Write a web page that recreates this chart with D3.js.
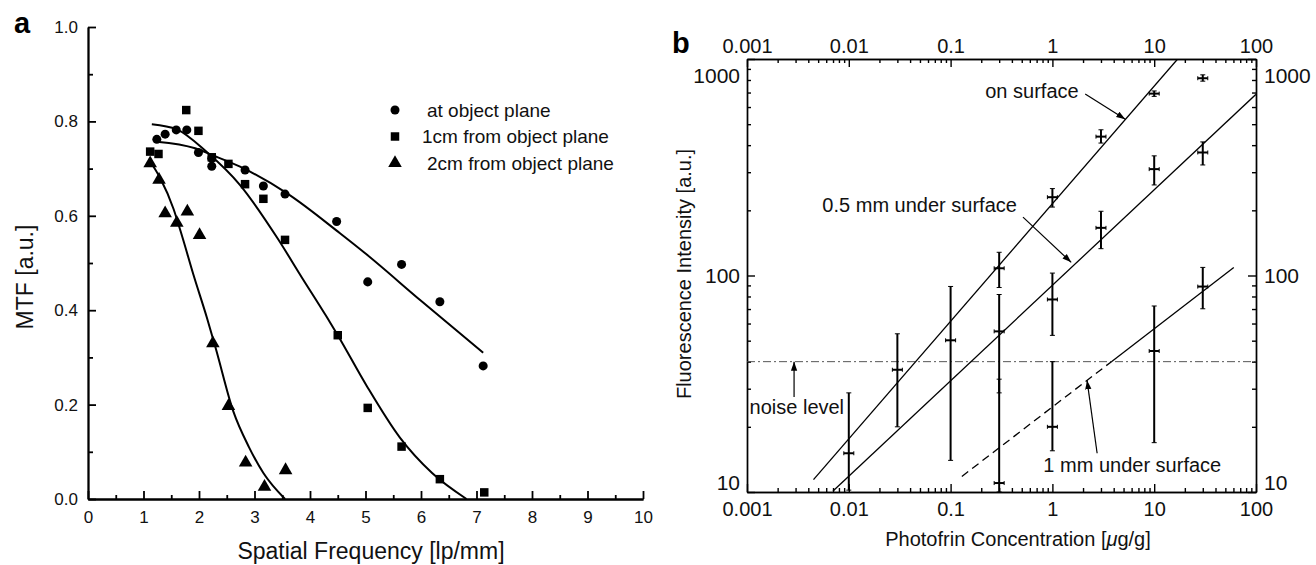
<!DOCTYPE html>
<html>
<head>
<meta charset="utf-8">
<script src="https://cdn.jsdelivr.net/npm/d3@7"></script>
<style>
  body { margin: 0; background: #fff; }
  svg { display: block; font-family: "Liberation Sans", Arial, sans-serif; }
</style>
</head>
<body>
<svg id="chart" width="1316" height="565"></svg>
<script>
// ---- panel a data: MTF vs spatial frequency ----
const atObjectPlane = [[1.24,0.762],[1.39,0.773],[1.59,0.782],[1.78,0.782],[1.99,0.734],[2.23,0.722],[2.23,0.705],
  [2.83,0.697],[3.16,0.663],[3.55,0.646],[4.48,0.588],[5.04,0.46],[5.65,0.497],[6.34,0.418],[7.12,0.282]];
const oneCmFrom = [[1.12,0.736],[1.27,0.731],[1.77,0.824],[1.99,0.78],[2.23,0.724],[2.53,0.71],[2.83,0.667],
  [3.16,0.636],[3.55,0.549],[4.5,0.347],[5.04,0.193],[5.65,0.111],[6.34,0.042],[7.14,0.014]];
const twoCmFrom = [[1.12,0.711],[1.28,0.676],[1.39,0.605],[1.6,0.585],[1.79,0.609],[2.01,0.559],[2.25,0.33],
  [2.53,0.197],[2.84,0.077],[3.18,0.026],[3.56,0.061]];
// fitted curves
const atObjectPlaneFit = [[1.24,0.757],[1.93,0.743],[2.23,0.729],[2.74,0.704],[3.58,0.648],[4.54,0.563],[5.0,0.52],[6.0,0.42],[7.12,0.31]];
const oneCmFit = [[1.15,0.794],[1.6,0.783],[2.14,0.735],[2.74,0.665],[3.4,0.555],[3.85,0.47],[4.3,0.386],[4.5,0.347],
  [5.02,0.24],[5.62,0.13],[6.2,0.055],[6.82,0.0]];
const twoCmFit = [[1.12,0.715],[1.3,0.68],[1.54,0.615],[1.7,0.555],[1.9,0.475],[2.14,0.385],[2.3,0.32],[2.62,0.185],
  [2.9,0.11],[3.16,0.055],[3.55,0.0]];
const legendLabels = ["at object plane", "1cm from object plane", "2cm from object plane"];
const mtfXTicks = [0,1,2,3,4,5,6,7,8,9,10];
const mtfYTicks = [0,0.2,0.4,0.6,0.8,1.0];

// ---- panel b data: [concentration, intensity, low, high] ----
const onSurface = [[0.01,15.1,10.2,28.7],[0.03,36.7,20.0,53.8],[0.1,50.2,14.0,89],[0.3,108,88,128],
  [1,230,207,252],[3,438,409,471],[10,692,672,712],[30,815,790,845]];
const halfMmUnder = [[0.3,55.2,28.7,81.7],[1,77.5,52.9,102.6],[3,166,133,198],[10,310,262,357],[30,370,324,414]];
const oneMmUnder = [[0.3,11.0,10,33.2],[1,20.0,15.5,40],[10,44.8,16.9,72.3],[30,88.9,70.2,109]];
const onSurfaceFit = [[0.0045,11.4],[17,1000]];
const halfMmFit = [[0.007,10.1],[100,687]];
const oneMmFitBelowNoise = [[0.129,11.8],[3.8,40]];
const oneMmFitAboveNoise = [[3.8,40],[60.5,109]];
const noiseLevel = 40;
const concTicks = [0.001,0.01,0.1,1,10,100];
const intensityTicks = [10,100,1000];

const svg = d3.select("#chart");
const font = "'Liberation Sans', Arial, sans-serif";

// ================= panel a =================
const ax = d3.scaleLinear([0,10],[88,643]);
const ay = d3.scaleLinear([0,1],[499,27]);
const gA = svg.append("g");

function styleAxis(g, w, fs) {
  g.select(".domain").attr("stroke-width", w);
  g.selectAll(".tick line").attr("stroke-width", w);
  g.selectAll("text").attr("font-size", fs).attr("font-family", font).attr("fill", "#111");
}

gA.append("g").attr("transform","translate(0,499)")
  .call(d3.axisBottom(ax).tickValues(d3.range(0.5,10,1)).tickSize(-4).tickSizeOuter(0).tickFormat(""))
  .call(g => styleAxis(g, 1.8, 17));
gA.append("g").attr("transform","translate(0,499)")
  .call(d3.axisBottom(ax).tickValues(mtfXTicks).tickSize(-8).tickSizeOuter(0).tickPadding(12).tickFormat(d3.format("d")))
  .call(g => styleAxis(g, 1.8, 17));
gA.append("g").attr("transform","translate(88,0)")
  .call(d3.axisLeft(ay).tickValues(d3.range(0.1,1,0.2)).tickSize(-5).tickSizeOuter(0).tickFormat(""))
  .call(g => styleAxis(g, 1.8, 17));
gA.append("g").attr("transform","translate(88,0)")
  .call(d3.axisLeft(ay).tickValues(mtfYTicks).tickSize(-8).tickSizeOuter(0).tickPadding(10).tickFormat(d3.format(".1f")))
  .call(g => styleAxis(g, 1.8, 17));

const curveA = d3.line().x(d => ax(d[0])).y(d => ay(d[1])).curve(d3.curveMonotoneX);
[atObjectPlaneFit, oneCmFit, twoCmFit].forEach(c => {
  gA.append("path").attr("d", curveA(c)).attr("fill","none").attr("stroke","#000").attr("stroke-width",2);
});

const symbols = [d3.symbolCircle, d3.symbolSquare, d3.symbolTriangle];
const symSize = [64, 72, 80];
[atObjectPlane, oneCmFrom, twoCmFrom].forEach((s, i) => {
  gA.append("g").selectAll("path").data(s).join("path")
    .attr("transform", d => `translate(${ax(d[0])},${ay(d[1])})`)
    .attr("d", d3.symbol(symbols[i], symSize[i]))
    .attr("fill", "#000");
});

// legend
const leg = gA.append("g").attr("transform","translate(395,110)");
legendLabels.forEach((t, i) => {
  leg.append("path").attr("transform", `translate(0,${i*26.5})`).attr("d", d3.symbol(symbols[i], symSize[i])).attr("fill","#000");
  leg.append("text").attr("x", i === 1 ? 27 : 32).attr("y", i*26.5).attr("dy","0.35em")
    .attr("font-size", 19).attr("fill","#111").text(t);
});

gA.append("text").attr("x", 371).attr("y", 559).attr("text-anchor","middle")
  .attr("font-size", 23).attr("fill","#111").text("Spatial Frequency [lp/mm]");
gA.append("text").attr("transform","translate(33,277) rotate(-90)").attr("text-anchor","middle")
  .attr("font-size", 23).attr("fill","#111").text("MTF [a.u.]");
gA.append("text").attr("x", 14).attr("y", 33).attr("font-size", 29).attr("font-weight","bold").text("a");

// ================= panel b =================
const bx = d3.scaleLog([0.001,100],[747,1256]);
const by = d3.scaleLog([10,1000],[492,59]);
const gB = svg.append("g");

const minorX = [];
for (let k = -3; k < 2; k++) for (let m = 2; m <= 9; m++) minorX.push(m * Math.pow(10, k));
const minorY = [];
for (let k = 1; k < 3; k++) for (let m = 2; m <= 9; m++) minorY.push(m * Math.pow(10, k));
const concFmt = d => d >= 1 ? d3.format("d")(d) : String(d);

function logAxis(axisFn, scale, pos, major, minor, fmt, pad) {
  gB.append("g").attr("transform", pos)
    .call(axisFn(scale).tickValues(minor).tickSize(-4).tickSizeOuter(0).tickFormat(""))
    .call(g => styleAxis(g, 1.4, 20));
  return gB.append("g").attr("transform", pos)
    .call(axisFn(scale).tickValues(major).tickSize(-8).tickSizeOuter(0).tickPadding(pad).tickFormat(fmt))
    .call(g => styleAxis(g, 1.4, 20));
}
logAxis(d3.axisBottom, bx, "translate(0,492)", concTicks, minorX, concFmt, 10);
logAxis(d3.axisTop, bx, "translate(0,59)", concTicks, minorX, concFmt, 6);
const yl = logAxis(d3.axisLeft, by, "translate(747,0)", intensityTicks, minorY, d3.format("d"), 7);
const yr = logAxis(d3.axisRight, by, "translate(1256,0)", intensityTicks, minorY, d3.format("d"), 8);
[yl, yr].forEach(g => g.selectAll(".tick text").attr("font-size", 21)
  .attr("dy", d => d === 1000 ? "1.1em" : d === 10 ? "-0.1em" : "0.35em"));

gB.append("clipPath").attr("id","clipB").append("rect")
  .attr("x", 747).attr("y", 59).attr("width", 509).attr("height", 433);
const plot = gB.append("g").attr("clip-path","url(#clipB)");

// noise level
plot.append("line").attr("x1", bx(0.001)).attr("x2", bx(100)).attr("y1", by(noiseLevel)).attr("y2", by(noiseLevel))
  .attr("stroke","#444").attr("stroke-width",0.9).attr("stroke-dasharray","8,3,2,3");

const lineB = d3.line().x(d => bx(d[0])).y(d => by(d[1]));
[onSurfaceFit, halfMmFit, oneMmFitAboveNoise].forEach(l => {
  plot.append("path").attr("d", lineB(l)).attr("fill","none").attr("stroke","#000").attr("stroke-width",1.3);
});
plot.append("path").attr("d", lineB(oneMmFitBelowNoise)).attr("fill","none").attr("stroke","#000")
  .attr("stroke-width",1.3).attr("stroke-dasharray","8,5");

// error bars
[onSurface, halfMmUnder, oneMmUnder].forEach(s => {
  const g = plot.append("g").attr("stroke","#000");
  s.forEach(d => {
    const x = bx(d[0]), y = by(d[1]), lo = by(d[2]), hi = by(d[3]);
    g.append("line").attr("x1",x).attr("x2",x).attr("y1",lo).attr("y2",hi).attr("stroke-width",2);
    [lo, hi].forEach(c => g.append("line").attr("x1",x-2.5).attr("x2",x+2.5).attr("y1",c).attr("y2",c).attr("stroke-width",1));
    g.append("line").attr("x1",x-5).attr("x2",x+5).attr("y1",y).attr("y2",y).attr("stroke-width",2);
    [x-5, x+5].forEach(c => g.append("line").attr("x1",c).attr("x2",c).attr("y1",y-2).attr("y2",y+2).attr("stroke-width",1));
  });
});

// annotations
svg.append("defs").append("marker").attr("id","arr").attr("viewBox","0 0 10 10").attr("refX",10).attr("refY",5)
  .attr("markerWidth",9).attr("markerHeight",9).attr("markerUnits","userSpaceOnUse").attr("orient","auto")
  .append("path").attr("d","M0,1.5L10,5L0,8.5Z").attr("fill","#000");
const arrows = [
  [[2.1,690],[5.2,527]],
  [[0.514,186],[1.53,115]],
  [[0.0029,27.5],[0.0029,40]],
  [[2.75,15.1],[2.19,32.8]]
];
arrows.forEach(a => {
  gB.append("line").attr("x1",bx(a[0][0])).attr("y1",by(a[0][1])).attr("x2",bx(a[1][0])).attr("y2",by(a[1][1]))
    .attr("stroke","#000").attr("stroke-width",1.2).attr("marker-end","url(#arr)");
});
const notes = [
  ["on surface", 0.219, 713],
  ["0.5 mm under surface", 0.0055, 212],
  ["noise level", 0.00106, 24.7],
  ["1 mm under surface", 0.815, 13.3]
];
notes.forEach(n => {
  gB.append("text").attr("x", bx(n[1])).attr("y", by(n[2])).attr("dy","0.35em")
    .attr("font-size",20).attr("fill","#111").text(n[0]);
});

gB.append("text").attr("x", 1018).attr("y", 546).attr("text-anchor","middle").attr("font-size",20).attr("fill","#111")
  .call(t => { t.append("tspan").text("Photofrin Concentration ["); t.append("tspan").attr("font-style","italic").text("μ"); t.append("tspan").text("g/g]"); });
gB.append("text").attr("transform","translate(691,274) rotate(-90)").attr("text-anchor","middle")
  .attr("font-size",20).attr("fill","#111").text("Fluorescence Intensity [a.u.]");
gB.append("text").attr("x", 672).attr("y", 53).attr("font-size", 29).attr("font-weight","bold").text("b");
</script>
</body>
</html>
